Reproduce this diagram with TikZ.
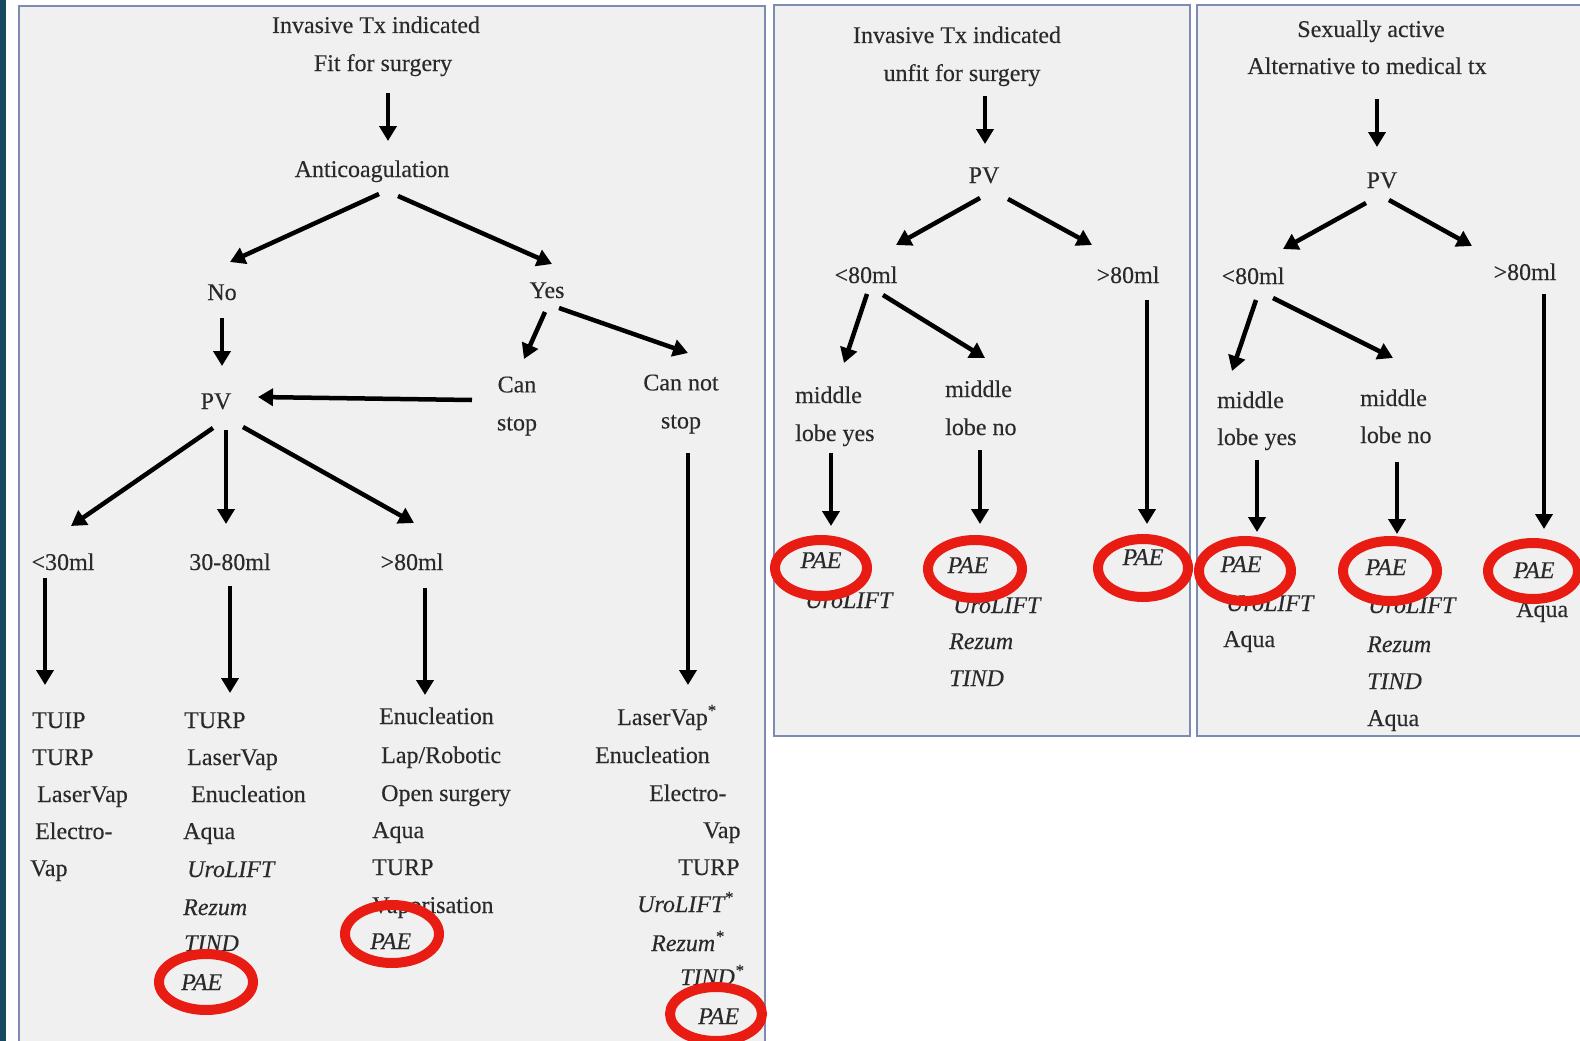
\documentclass[tikz,border=0pt]{standalone}
\usepackage{fontspec}
\setmainfont{Liberation Serif}[FakeBold=0.25]
\usetikzlibrary{arrows.meta,calc}
\definecolor{panelfill}{RGB}{240,240,240}
\definecolor{panelline}{RGB}{125,140,175}
\definecolor{txt}{RGB}{42,42,44}
\definecolor{ringred}{RGB}{232,28,18}
\definecolor{stripblue}{RGB}{22,72,100}
\newcommand{\st}{\textsuperscript{*}}
\begin{document}
\begin{tikzpicture}[x=1pt,y=-1pt,
 lbl/.style={font=\fontsize{24}{28}\selectfont, text=txt, inner sep=0pt, text height=21pt, text depth=5pt},
 itl/.style={lbl, font=\fontsize{24}{28}\selectfont\itshape},
 L/.style={lbl, anchor=west},
 IL/.style={itl, anchor=west},
 two/.style={font=\fontsize{24}{38}\selectfont, text=txt, inner sep=0pt, align=center},
 arr/.style={line width=4.5pt, -{Triangle[length=15pt,width=17pt]}},
 ring/.style={draw=ringred, line width=10pt},
 panel/.style={fill=panelfill, draw=panelline, line width=1.8pt}]
\useasboundingbox (0,0) rectangle (1580,1041);
\clip (0,0) rectangle (1580,1041);
\fill[white] (0,0) rectangle (1580,1041);
\fill[stripblue] (0,0) rectangle (6,1041);
% panels
\draw[panel] (19,6) rectangle (765,1060);
\draw[panel] (774,5) rectangle (1190,736);
\draw[panel] (1197,5) rectangle (1600,736);

% ---------- panel 1 ----------
\node[lbl] (t1a) at (376,25) {Invasive Tx indicated};
\node[lbl] (t1b) at (383,63) {Fit for surgery};
\node[lbl] (anti) at (372,169) {Anticoagulation};
\node[lbl] (no) at (222,292) {No};
\node[lbl] (yes) at (547,290) {Yes};
\node[two] (canstop) at (517,406) {Can\\stop};
\node[two] (cannot) at (681,404) {Can not\\stop};
\node[lbl] (pv1) at (216,401) {PV};
\node[lbl] (lt30) at (63,562) {<30ml};
\node[lbl] (m3080) at (230,562) {30-80ml};
\node[lbl] (gt80a) at (412,562) {>80ml};

\node[L] (a1) at (32,720) {TUIP};
\node[L] (a2) at (32,757) {TURP};
\node[L] (a3) at (37,794) {LaserVap};
\node[L] (a4) at (35,831) {Electro-};
\node[L] (a5) at (30,868) {Vap};

\node[L] (b1) at (184,720) {TURP};
\node[L] (b2) at (187,757) {LaserVap};
\node[L] (b3) at (191,794) {Enucleation};
\node[L] (b4) at (183,831) {Aqua};
\node[IL] (b5) at (187,869) {UroLIFT};
\node[IL] (b6) at (183,907) {Rezum};
\node[IL] (b7) at (184,943) {TIND};
\node[IL] (b8) at (181,982) {PAE};

\node[L] (c1) at (379,716) {Enucleation};
\node[L] (c2) at (381,755) {Lap/Robotic};
\node[L] (c3) at (381,793) {Open surgery};
\node[L] (c4) at (372,830) {Aqua};
\node[L] (c5) at (372,867) {TURP};
\node[L] (c6) at (372,905) {Vaporisation};
\node[IL] (c7) at (370,941) {PAE};

\node[L] (d1) at (617,717) {LaserVap\st};
\node[L] (d2) at (595,755) {Enucleation};
\node[L] (d3) at (649,793) {Electro-};
\node[L] (d4) at (703,830) {Vap};
\node[L] (d5) at (678,867) {TURP};
\node[IL] (d6) at (637,904) {UroLIFT\st};
\node[IL] (d7) at (651,943) {Rezum\st};
\node[IL] (d8) at (680,977) {TIND\st};
\node[IL] (d9) at (698,1016) {PAE};

\draw[arr] ([shift={(5,30)}]t1b.center) -- ([shift={(16,-28)}]anti.center);
\draw[arr] ([shift={(7,25)}]anti.center) -- ([shift={(8,-30)}]no.center);
\draw[arr] ([shift={(26,27)}]anti.center) -- ([shift={(5,-26)}]yes.center);
\draw[arr] ([shift={(0,26)}]no.center) -- ([shift={(6,-35)}]pv1.center);
\draw[arr] ([shift={(-2,22)}]yes.center) -- ([shift={(7,-47)}]canstop.center);
\draw[arr] ([shift={(12,18)}]yes.center) -- ([shift={(7,-51)}]cannot.center);
\draw[arr] ([shift={(-45,-6)}]canstop.center) -- ([shift={(42,-4)}]pv1.center);
\draw[arr] ([shift={(-3,27)}]pv1.center) -- ([shift={(8,-36)}]lt30.center);
\draw[arr] ([shift={(10,29)}]pv1.center) -- ([shift={(-4,-38)}]m3080.center);
\draw[arr] ([shift={(27,26)}]pv1.center) -- ([shift={(2,-39)}]gt80a.center);
\draw[arr] ([shift={(-18,16)}]lt30.center) -- ([shift={(13,-35)}]a1.west);
\draw[arr] ([shift={(0,24)}]m3080.center) -- ([shift={(46,-27)}]b1.west);
\draw[arr] ([shift={(13,26)}]gt80a.center) -- ([shift={(46,-21)}]c1.west);
\draw[arr] ([shift={(7,49)}]cannot.center) -- ([shift={(71,-32)}]d1.west);

% ---------- panel 2 ----------
\node[lbl] (t2a) at (957,35) {Invasive Tx indicated};
\node[lbl] (t2b) at (962,73) {unfit for surgery};
\node[lbl] (pv2) at (984,175) {PV};
\node[lbl] (lt80b) at (866,275) {<80ml};
\node[lbl] (gt80b) at (1128,275) {>80ml};
\node[L] (my2) at (795,395) {middle};
\node[L] (ly2) at (795,433) {lobe yes};
\node[L] (mn2) at (945,389) {middle};
\node[L] (ln2) at (945,427) {lobe no};
\node[IL] (e2) at (805,600) {UroLIFT};
\node[IL] (f2) at (953,605) {UroLIFT};
\node[IL] (f3) at (949,641) {Rezum};
\node[IL] (f4) at (949,678) {TIND};
\node[itl] (pB1) at (821,560) {PAE};
\node[itl] (pB2) at (968,565) {PAE};
\node[itl] (pB3) at (1143,557) {PAE};

\draw[arr] ([shift={(23,23)}]t2b.center) -- ([shift={(1,-31)}]pv2.center);
\draw[arr] ([shift={(-4,23)}]pv2.center) -- ([shift={(30,-30)}]lt80b.center);
\draw[arr] ([shift={(24,24)}]pv2.center) -- ([shift={(-36,-30)}]gt80b.center);
\draw[arr] ([shift={(1,19)}]lt80b.center) -- ([shift={(49,-32)}]my2.west);
\draw[arr] ([shift={(17,20)}]lt80b.center) -- ([shift={(40,-31)}]mn2.west);
\draw[arr] ([shift={(19,25)}]gt80b.center) -- ([shift={(4,-33)}]pB3.center);
\draw[arr] ([shift={(36,20)}]ly2.west) -- ([shift={(10,-34)}]pB1.center);
\draw[arr] ([shift={(35,23)}]ln2.west) -- ([shift={(12,-41)}]pB2.center);

% ---------- panel 3 ----------
\node[lbl] (t3a) at (1371,29) {Sexually active};
\node[lbl] (t3b) at (1367,66) {Alternative to medical tx};
\node[lbl] (pv3) at (1382,180) {PV};
\node[lbl] (lt80c) at (1253,276) {<80ml};
\node[lbl] (gt80c) at (1525,272) {>80ml};
\node[L] (my3) at (1217,400) {middle};
\node[L] (ly3) at (1217,437) {lobe yes};
\node[L] (mn3) at (1360,398) {middle};
\node[L] (ln3) at (1360,435) {lobe no};
\node[IL] (g1) at (1226,603) {UroLIFT};
\node[L] (g2) at (1223,639) {Aqua};
\node[IL] (h1) at (1368,605) {UroLIFT};
\node[IL] (h2) at (1367,644) {Rezum};
\node[IL] (h3) at (1367,681) {TIND};
\node[L] (h4) at (1367,718) {Aqua};
\node[L] (k1) at (1516,609) {Aqua};
\node[itl] (pC1) at (1241,564) {PAE};
\node[itl] (pC2) at (1386,567) {PAE};
\node[itl] (pC3) at (1534,570) {PAE};

\draw[arr] ([shift={(10,33)}]t3b.center) -- ([shift={(-5,-33)}]pv3.center);
\draw[arr] ([shift={(-16,23)}]pv3.center) -- ([shift={(30,-27)}]lt80c.center);
\draw[arr] ([shift={(7,20)}]pv3.center) -- ([shift={(-53,-26)}]gt80c.center);
\draw[arr] ([shift={(3,24)}]lt80c.center) -- ([shift={(15,-29)}]my3.west);
\draw[arr] ([shift={(20,22)}]lt80c.center) -- ([shift={(33,-40)}]mn3.west);
\draw[arr] ([shift={(19,22)}]gt80c.center) -- ([shift={(10,-41)}]pC3.center);
\draw[arr] ([shift={(40,23)}]ly3.west) -- ([shift={(16,-32)}]pC1.center);
\draw[arr] ([shift={(37,27)}]ln3.west) -- ([shift={(11,-33)}]pC2.center);

% ---------- red rings ----------
\draw[ring] (206,982) ellipse [x radius=47, y radius=28];
\draw[ring] (392,934) ellipse [x radius=47, y radius=29];
\draw[ring] (716,1014) ellipse [x radius=46, y radius=27];
\draw[ring] (821,568) ellipse [x radius=46, y radius=28];
\draw[ring] (975,569) ellipse [x radius=47, y radius=29];
\draw[ring] (1143,568) ellipse [x radius=45, y radius=29];
\draw[ring] (1245,571) ellipse [x radius=46, y radius=30];
\draw[ring] (1390,571) ellipse [x radius=47, y radius=30];
\draw[ring] (1533,571) ellipse [x radius=45, y radius=28];
\end{tikzpicture}
\end{document}
